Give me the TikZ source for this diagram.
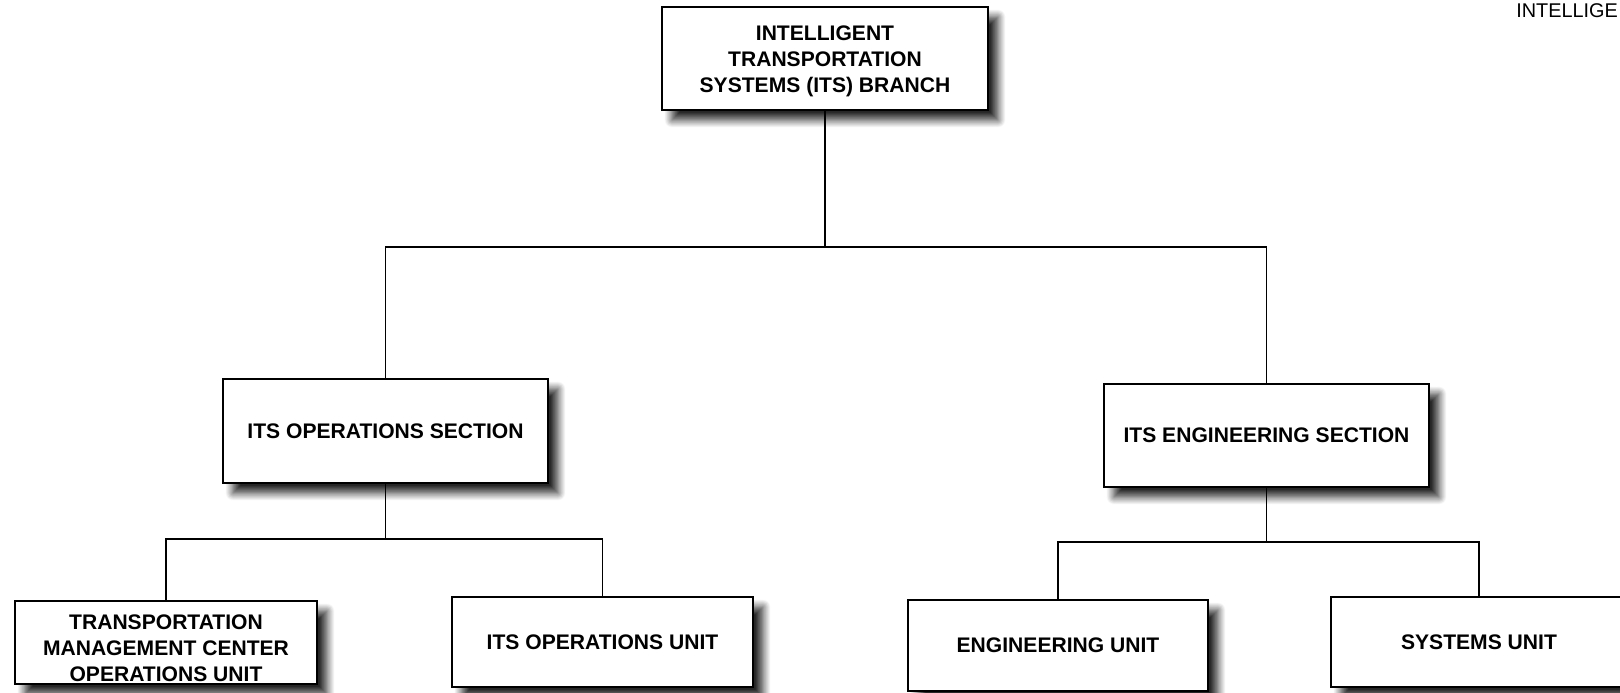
\documentclass[tikz,border=0pt]{standalone}
\usepackage{fontspec}
\setmainfont{Liberation Sans}
\usetikzlibrary{shadows.blur}
\begin{document}
\begin{tikzpicture}[x=0.02cm,y=-0.02cm,
  boxtext/.style={align=center, inner sep=0pt,
    font=\bfseries\fontsize{12}{14.8}\selectfont},
  orgbox/.style={boxtext, draw=black, line width=1.35pt, fill=white,
    blur shadow={shadow xshift=0.2cm, shadow yshift=-0.2cm,
      shadow blur radius=0.15cm, shadow blur steps=12, shadow opacity=85}},
  conn/.style={draw=black, line width=0.9pt}]
\useasboundingbox (0,0) rectangle (1620,693);
\clip (0,0) rectangle (1620,693);

\node[orgbox, minimum width=6.52cm, minimum height=2.06cm] (top) at (825,58.5) {};
\node[boxtext] (toptext) at ([yshift=-0.06cm]top.center)
  {INTELLIGENT\\TRANSPORTATION\\SYSTEMS (ITS) BRANCH};
\node[orgbox, minimum width=6.5cm, minimum height=2.08cm] (ops) at (385.5,431)
  {ITS OPERATIONS SECTION};
\node[orgbox, minimum width=6.5cm, minimum height=2.06cm] (eng) at (1266.5,435.5)
  {ITS ENGINEERING SECTION};
\node[orgbox, minimum width=6.04cm, minimum height=1.66cm] (tmc) at (166,642.5) {};
\node[boxtext] (tmctext) at ([yshift=-0.11cm]tmc.center)
  {TRANSPORTATION\\MANAGEMENT CENTER\\OPERATIONS UNIT};
\node[orgbox, minimum width=6.02cm, minimum height=1.8cm] (opsu) at (602.5,642)
  {ITS OPERATIONS UNIT};
\node[orgbox, minimum width=6.0cm, minimum height=1.82cm] (engu) at (1058,645.5)
  {ENGINEERING UNIT};
\node[orgbox, minimum width=5.92cm, minimum height=1.8cm] (sysu) at (1479,642)
  {SYSTEMS UNIT};

\node[anchor=base west, inner sep=0pt, font=\fontsize{11.3}{14}\selectfont] (corner) at (1516,17) {INTELLIGE};

\coordinate (j1) at (825,247);
\coordinate (j2) at (385.5,539);
\coordinate (j3) at (1266.5,542);

\draw[conn] (top.south) -- (j1);
\draw[conn] (ops.north) |- (j1) -| (eng.north);
\draw[conn] (ops.south) -- (j2);
\draw[conn] (tmc.north) |- (j2) -| (opsu.north);
\draw[conn] (eng.south) -- (j3);
\draw[conn] (engu.north) |- (j3) -| (sysu.north);
\end{tikzpicture}
\end{document}
